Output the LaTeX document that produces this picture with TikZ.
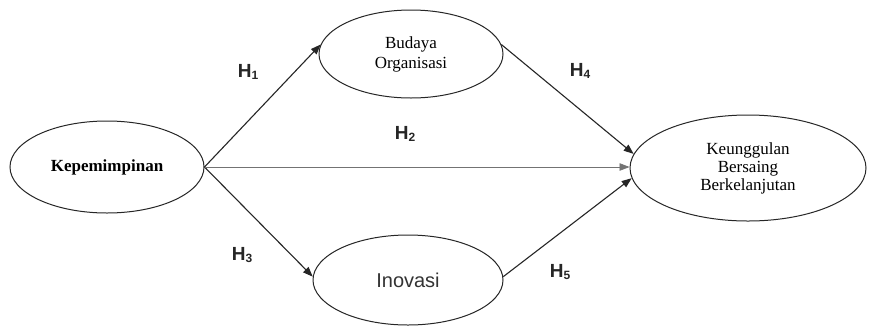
\documentclass[tikz,border=0pt]{standalone}
\usepackage{fontspec}
\setmainfont{Liberation Serif}
\newfontfamily\arialf{Liberation Sans}
\usetikzlibrary{arrows.meta,shapes.geometric}
\tikzset{
  var/.style={draw=black!85, line width=1pt, ellipse, inner sep=0pt, align=center},
  link/.style={draw=black!85, line width=1.1pt, -{Triangle[length=10pt,width=7.5pt]}},
  thinlink/.style={draw=black!55, line width=0.7pt, -{Triangle[length=10pt,width=7.5pt]}},
  hlabel/.style={font=\arialf\bfseries\fontsize{19}{19}\selectfont, text=black!85, inner sep=0pt}
}
\newcommand{\hyp}[1]{H\raisebox{-0.25ex}{\fontsize{12}{12}\selectfont #1}}
\begin{document}
\begin{tikzpicture}[x=1pt,y=-1pt]
\useasboundingbox[fill=white] (0,0) rectangle (869,325);
\node[var, minimum width=194pt, minimum height=92pt, font=\bfseries\fontsize{17}{18}\selectfont] (kep) at (107,167) {Kepemimpinan};
\node[var, minimum width=184pt, minimum height=88pt, font=\fontsize{17}{20}\selectfont] (bud) at (411,54) {Budaya\\Organisasi};
\node[var, minimum width=190pt, minimum height=90pt, font=\arialf\fontsize{20}{20}\selectfont, text=black!80] (ino) at (408,280) {Inovasi};
\node[var, minimum width=236pt, minimum height=106pt, font=\fontsize{17}{18}\selectfont] (keu) at (748,168) {Keunggulan\\Bersaing\\Berkelanjutan};
\draw[link] (kep.east) -- (bud.174);
\draw[link] (kep.east) -- (ino.178);
\draw[thinlink] (kep.east) -- (kep.east -| keu.west);
\draw[link] (bud.6) -- (keu.173);
\draw[link] (ino.2) -- (keu.185);
\node[hlabel] (h1) at (248,72) {\hyp{1}};
\node[hlabel] (h2) at (405,134) {\hyp{2}};
\node[hlabel] (h3) at (242,255) {\hyp{3}};
\node[hlabel] (h4) at (580,71) {\hyp{4}};
\node[hlabel] (h5) at (560,272) {\hyp{5}};
\end{tikzpicture}
\end{document}
